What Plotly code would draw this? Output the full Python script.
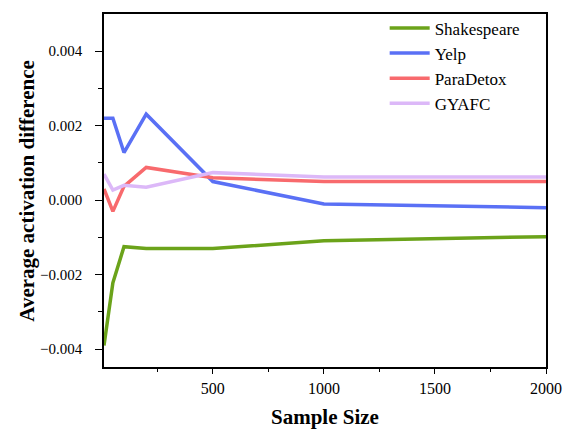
import plotly.graph_objects as go

sample_sizes = [10, 50, 100, 200, 500, 1000, 2000]
shakespeare = [-0.0039, -0.00222, -0.00125, -0.0013, -0.0013, -0.00109, -0.00098]
yelp = [0.0022, 0.0022, 0.00128, 0.00231, 0.0005, -0.0001, -0.0002]
paradetox = [0.0003, -0.0003, 0.00037, 0.00088, 0.0006, 0.0005, 0.0005]
gyafc = [0.0007, 0.00027, 0.0004, 0.00035, 0.00074, 0.00062, 0.00062]

series = [
    ("Shakespeare", shakespeare, "#6ba31a"),
    ("Yelp", yelp, "#5a70f5"),
    ("ParaDetox", paradetox, "#f86a6d"),
    ("GYAFC", gyafc, "#dcb8f8"),
]

fig = go.Figure()
for name, vals, col in series:
    fig.add_trace(go.Scatter(x=sample_sizes, y=vals, mode="lines", name=name,
                             line=dict(color=col, width=3.5)))

font_family = "'Liberation Serif', 'Times New Roman', serif"
fig.update_layout(
    width=572, height=432,
    margin=dict(l=104, r=26, t=10, b=65),
    plot_bgcolor="white", paper_bgcolor="white",
    font=dict(family=font_family, size=16, color="black"),
    showlegend=True,
    legend=dict(x=0.635, y=1.01, xanchor="left", yanchor="top",
                bgcolor="rgba(0,0,0,0)", font=dict(size=17, family=font_family),
                tracegroupgap=0, itemwidth=40),
)
fig.update_xaxes(
    range=[10, 2000], tickvals=[500, 1000, 1500, 2000],
    showgrid=False, zeroline=False,
    showline=True, linecolor="black", linewidth=1.5, mirror=True,
    ticks="outside", ticklen=5, tickwidth=1.2, tickcolor="black",
    minor=dict(tickvals=[250, 750, 1250, 1750], ticks="outside", ticklen=3, tickcolor="black"),
    tickfont=dict(size=16, family=font_family), ticklabelstandoff=1,
)
fig.update_yaxes(
    range=[-0.00448, 0.005], tickvals=[-0.004, -0.002, 0.0, 0.002, 0.004],
    tickformat=".3f",
    showgrid=False, zeroline=False,
    showline=True, linecolor="black", linewidth=1.5, mirror=True,
    ticks="outside", ticklen=7, tickwidth=1.2, tickcolor="black",
    minor=dict(tickvals=[-0.003, -0.001, 0.001, 0.003], ticks="outside", ticklen=4, tickcolor="black"),
    tickfont=dict(size=15, family=font_family), ticklabelstandoff=10,
)
fig.add_annotation(text="<b>Average activation difference</b>", xref="paper", yref="paper",
                   x=-0.176, y=0.5, xanchor="center", yanchor="middle", textangle=-90,
                   showarrow=False, font=dict(size=21, family=font_family))
fig.add_annotation(text="<b>Sample Size</b>", xref="paper", yref="paper",
                   x=0.5, y=-0.182, xanchor="center", yanchor="bottom",
                   showarrow=False, font=dict(size=21, family=font_family))

fig.write_html("out.html")
